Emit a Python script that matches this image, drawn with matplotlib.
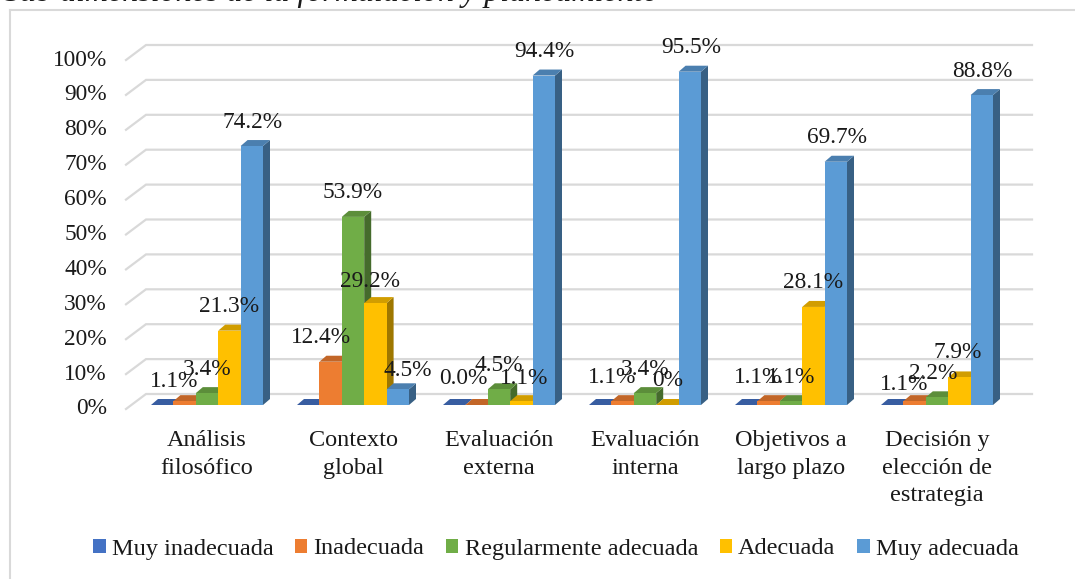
import matplotlib
matplotlib.use("Agg")
import matplotlib.pyplot as plt
from matplotlib.patches import Polygon, Patch
from matplotlib.lines import Line2D

plt.rcParams["font.family"] = ["Liberation Serif", "DejaVu Serif"]

# ---- data -------------------------------------------------------------
categories = ["Análisis\nfilosófico", "Contexto\nglobal", "Evaluación\nexterna",
              "Evaluación\ninterna", "Objetivos a\nlargo plazo",
              "Decisión y\nelección de\nestrategia"]
series_names = ["Muy inadecuada", "Inadecuada", "Regularmente adecuada",
                "Adecuada", "Muy adecuada"]
muy_inadecuada = [0.0, 0.0, 0.0, 0.0, 0.0, 0.0]
inadecuada = [1.1, 12.4, 0.0, 1.1, 1.1, 1.1]
regular = [3.4, 53.9, 4.5, 3.4, 1.1, 2.2]
adecuada = [21.3, 29.2, 1.1, 0.0, 28.1, 7.9]
muy_adecuada = [74.2, 4.5, 94.4, 95.5, 69.7, 88.8]
# data label text per series (None = no label shown)
lab_muy_inadecuada = [None] * 6
lab_inadecuada = ["1.1%", "12.4%", "0.0%", "1.1%", "1.1%", "1.1%"]
lab_regular = ["3.4%", "53.9%", "4.5%", "3.4%", "1.1%", "2.2%"]
lab_adecuada = ["21.3%", "29.2%", "1.1%", "0%", "28.1%", "7.9%"]
lab_muy_adecuada = ["74.2%", "4.5%", "94.4%", "95.5%", "69.7%", "88.8%"]
y_ticks = [0, 10, 20, 30, 40, 50, 60, 70, 80, 90, 100]
title = "Sub dimensiones de la formulación y planeamiento"

values = [muy_inadecuada, inadecuada, regular, adecuada, muy_adecuada]
labels = [lab_muy_inadecuada, lab_inadecuada, lab_regular, lab_adecuada, lab_muy_adecuada]
colors = ["#4472C4", "#ED7D31", "#70AD47", "#FFC000", "#5B9BD5"]

# ---- canvas / scale ---------------------------------------------------
W, H = 1075, 579
fig = plt.figure(figsize=(W / 100, H / 100), dpi=100)
ax = fig.add_axes([0, 0, 1, 1])
ax.set_axis_off()

GX0, GXS = 207.0, 146.0      # pixel centre of first group, pixels per group
PY0, PYS = 405.0, 3.49       # pixel row of 0 %, pixels per 1 %
ax.set_xlim((0 - GX0) / GXS, (W - GX0) / GXS)
ax.set_ylim((PY0 - H) / PYS, (PY0 - 0) / PYS)


def dx(p):
    return p / GXS


def dy(p):
    return p / PYS


FS_TICK = 16.8
FS_LAB = 16.8
FS_CAT = 17.5
FS_LEG = 17.5
txt_color = "#1a1a1a"
grid_color = "#d9d9d9"

# ---- walls / gridlines ------------------------------------------------
wall_front_x, wall_back_x, wall_end_x = (126 - GX0) / GXS, (146 - GX0) / GXS, (1032 - GX0) / GXS
for t in y_ticks:
    yf = t - dy(4)
    yb = t + dy(11)
    ax.plot([wall_front_x, wall_back_x, wall_end_x], [yf, yb, yb],
            color=grid_color, lw=1.6, zorder=1, solid_joinstyle="miter")
    ax.text((107 - GX0) / GXS, yf, f"{t}%", ha="right", va="center",
            fontsize=FS_TICK, color=txt_color)

# ---- 3-D style columns ------------------------------------------------
bw = dx(22.4)
ddx, ddy = dx(7), dy(6)


def shade(c, f):
    r, g, b = matplotlib.colors.to_rgb(c)
    return (r * f, g * f, b * f)


z = 2
for g in range(len(categories)):
    left0 = g - 2.5 * bw
    for s in range(len(series_names)):
        v = values[s][g]
        x0 = left0 + s * bw
        x1 = x0 + bw
        c = colors[s]
        front = Polygon([(x0, 0), (x1, 0), (x1, v), (x0, v)], closed=True,
                        facecolor=c, edgecolor="none", zorder=z)
        side = Polygon([(x1, 0), (x1 + ddx, ddy), (x1 + ddx, v + ddy), (x1, v)],
                       closed=True, facecolor=shade(c, 0.62), edgecolor="none", zorder=z)
        top = Polygon([(x0, v), (x1, v), (x1 + ddx, v + ddy), (x0 + ddx, v + ddy)],
                      closed=True, facecolor=shade(c, 0.82), edgecolor="none", zorder=z)
        ax.add_patch(side)
        ax.add_patch(top)
        ax.add_patch(front)
        z += 1

# ---- data labels --------------------------------------------------------
# pixel nudges of individual labels (series index, group index) -> (dx, dy down)
series_nudge_x = [0, -10, 0, 0, 1]
label_nudge = {(1, 0): (0, 4), (3, 1): (-5, 2), (4, 1): (9, 5), (1, 2): (-3, -2),
               (3, 2): (3, 1), (1, 5): (0, 7), (2, 5): (-4, 0), (3, 5): (-2, -1)}
for g in range(len(categories)):
    left0 = g - 2.5 * bw
    for s in range(len(series_names)):
        lab = labels[s][g]
        if lab is None:
            continue
        v = values[s][g]
        nx, ny = label_nudge.get((s, g), (0, 0))
        xc = left0 + (s + 0.5) * bw + dx(series_nudge_x[s] + nx)
        ax.text(xc, v + dy(24 - ny), lab, ha="center", va="center", fontsize=FS_LAB,
                color=txt_color, zorder=100)

# ---- category labels ----------------------------------------------------
for g, cat in enumerate(categories):
    ax.text(g, -dy(430 - PY0), cat, ha="center", va="top", fontsize=FS_CAT,
            color=txt_color, linespacing=1.42)

# ---- legend -------------------------------------------------------------
handles = [Patch(facecolor=c, edgecolor="none") for c in colors]
fig.legend(handles, series_names, loc="center", bbox_to_anchor=(556 / W, 1 - 549 / H),
           ncol=5, frameon=False, fontsize=FS_LEG, handlelength=0.5, handleheight=0.5,
           handletextpad=0.25, columnspacing=0.9, labelcolor=txt_color)

# ---- frame and caption ----------------------------------------------------
fig.add_artist(Line2D([10 / W, 10 / W], [0, 1 - 10 / H], transform=fig.transFigure,
                      color=grid_color, lw=1.5))
fig.add_artist(Line2D([10 / W, 1], [1 - 10 / H, 1 - 10 / H], transform=fig.transFigure,
                      color=grid_color, lw=1.5))
fig.text(4 / W, 1 - 1.0 / H, title, ha="left", va="baseline", fontsize=23,
         style="italic", color=txt_color)

fig.savefig("out.png", dpi=100)
